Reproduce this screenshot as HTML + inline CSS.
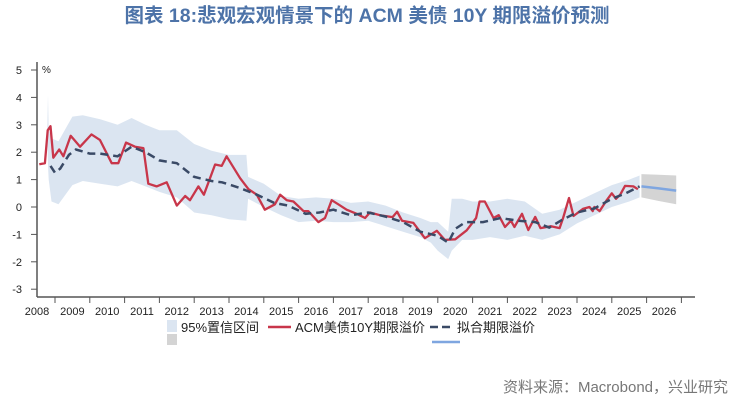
<!DOCTYPE html>
<html><head><meta charset="utf-8">
<style>
body{margin:0;background:#fff;width:734px;height:401px;overflow:hidden;font-family:"Liberation Sans","Noto Sans CJK SC",sans-serif;}
svg{position:absolute;left:0;top:0}
</style></head><body>
<svg width="734" height="401">
<text x="367" y="22" text-anchor="middle" font-size="19.5" font-weight="bold" fill="#4d73a8" font-family="Liberation Sans, Noto Sans CJK SC, sans-serif">图表 18:悲观宏观情景下的 ACM 美债 10Y 期限溢价预测</text>
<g id="plot"></g>
<g font-size="13" fill="#222">
<rect x="167" y="320" width="10" height="12" fill="#dbe5f1"/>
<rect x="167" y="334" width="10" height="11" fill="#d4d4d4"/>
<text x="181" y="332">95%置信区间</text>
<line x1="268" y1="327" x2="291" y2="327" stroke="#c8364a" stroke-width="2.5"/>
<text x="295" y="332">ACM美债10Y期限溢价</text>
<line x1="430" y1="327" x2="453" y2="327" stroke="#3a4a66" stroke-width="2.5" stroke-dasharray="8,4"/>
<text x="457" y="332">拟合期限溢价</text>
<line x1="432" y1="342" x2="460" y2="342" stroke="#7fa6e0" stroke-width="2.5"/>
</g>
<text x="728" y="392" text-anchor="end" font-size="15" fill="#777">资料来源：Macrobond，兴业研究</text>
</svg>
<script>
const yTicks=[5,4,3,2,1,0,-1,-2,-3];
const yearLabels=[2008,2009,2010,2011,2012,2013,2014,2015,2016,2017,2018,2019,2020,2021,2022,2023,2024,2025,2026];
const acmT=[2008.55,2008.71,2008.79,2008.87,2008.95,2009.12,2009.24,2009.45,2009.72,2010.05,2010.29,2010.63,2010.82,2011.04,2011.3,2011.54,2011.68,2011.92,2012.21,2012.5,2012.74,2012.88,2013.12,2013.28,2013.6,2013.79,2013.93,2014.32,2014.56,2014.8,2015.03,2015.32,2015.47,2015.66,2015.85,2016.14,2016.28,2016.57,2016.76,2016.95,2017.14,2017.38,2017.67,2017.91,2018.05,2018.34,2018.7,2018.83,2018.97,2019.3,2019.63,2019.97,2020.2,2020.5,2020.83,2021.1,2021.2,2021.35,2021.6,2021.75,2021.93,2022.1,2022.2,2022.42,2022.6,2022.8,2022.95,2023.25,2023.5,2023.6,2023.77,2023.9,2024.17,2024.36,2024.45,2024.5,2024.65,2024.86,2025.0,2025.12,2025.24,2025.38,2025.62,2025.75];
const acmV=[1.56,1.6,2.8,2.95,1.8,2.1,1.85,2.6,2.2,2.65,2.45,1.6,1.6,2.35,2.2,2.15,0.85,0.75,0.9,0.05,0.4,0.25,0.75,0.45,1.55,1.5,1.85,1.05,0.65,0.45,-0.1,0.1,0.45,0.25,0.2,-0.15,-0.15,-0.55,-0.4,0.25,0.1,-0.1,-0.25,-0.4,-0.2,-0.3,-0.37,-0.17,-0.5,-0.58,-1.14,-0.87,-1.2,-1.18,-0.85,-0.4,0.2,0.2,-0.4,-0.3,-0.73,-0.5,-0.73,-0.25,-0.84,-0.36,-0.77,-0.7,-0.77,-0.4,0.33,-0.33,-0.07,0,-0.15,0,-0.15,0.26,0.5,0.3,0.45,0.77,0.75,0.65];
const fitT=[2008.87,2009.0,2009.15,2009.4,2009.6,2010,2010.3,2010.8,2011.2,2011.6,2012,2012.5,2013,2013.5,2013.8,2014.3,2014.8,2015.3,2015.7,2016.2,2016.6,2017,2017.5,2018,2018.5,2019,2019.5,2020.0,2020.3,2020.5,2020.8,2021.3,2021.8,2022.3,2022.8,2023.2,2023.6,2024,2024.5,2025,2025.4,2025.8];
const fitV=[1.5,1.25,1.4,1.9,2.1,1.95,1.95,1.85,2.2,2.0,1.7,1.6,1.1,0.95,0.9,0.7,0.45,0.15,0.05,-0.25,-0.2,-0.1,-0.3,-0.2,-0.35,-0.55,-0.9,-1.05,-1.3,-0.8,-0.55,-0.55,-0.4,-0.5,-0.55,-0.75,-0.45,-0.2,-0.05,0.3,0.5,0.75];
const bandT=[2008.78,2008.8,2008.82,2008.9,2009.1,2009.5,2009.8,2010.3,2010.8,2011.2,2011.6,2012,2012.5,2013,2013.5,2014,2014.5,2014.55,2015,2015.5,2016,2016.5,2017,2017.5,2018,2018.5,2019,2019.5,2019.8,2020.0,2020.3,2020.4,2020.7,2021,2021.5,2022,2022.5,2023,2023.5,2024,2024.5,2025,2025.5,2025.8];
const bandHi=[2.9,4.1,2.8,2.5,2.4,3.3,3.35,3.2,3.0,3.25,3.0,2.8,2.8,2.3,2.05,1.9,1.9,1.1,0.85,0.4,0.3,0.35,0.3,0.15,0.2,0.05,-0.2,-0.4,-0.55,-0.55,-0.9,0.3,0.3,0.2,0.2,0.3,0.2,-0.25,-0.1,0.2,0.5,0.8,1.0,1.15];
const bandLo=[2.9,1.5,1.0,0.2,0.1,0.8,0.95,0.85,0.75,0.95,0.75,0.55,0.35,-0.2,-0.3,-0.45,-0.5,0.3,0.0,-0.3,-0.55,-0.5,-0.55,-0.55,-0.5,-0.7,-0.9,-1.1,-1.3,-1.6,-1.9,-1.6,-1.2,-1.2,-1.1,-1.2,-1.05,-1.2,-1.0,-0.6,-0.3,0.0,0.2,0.35];
const fcT=[2025.85,2026.35,2026.85];
const fcV=[0.75,0.68,0.6];
const fcHi=[1.2,1.18,1.15];
const fcLo=[0.35,0.22,0.1];

const NS="http://www.w3.org/2000/svg";
const g=document.getElementById('plot');
const X=t=>55+(t-2009)*34.8;
const Y=v=>207-27.4*v;
function mk(tag,attrs){const e=document.createElementNS(NS,tag);for(const k in attrs)e.setAttribute(k,attrs[k]);g.appendChild(e);return e;}
function pts(ts,vs){return ts.map((t,i)=>X(t).toFixed(1)+','+Y(vs[i]).toFixed(1)).join(' ');}
function bandPts(ts,hi,lo){return pts(ts,hi)+' '+pts(ts.slice().reverse(),lo.slice().reverse());}

let e=mk('polygon',{points:bandPts(bandT,bandHi,bandLo),fill:'#dbe5f1'});


e=mk('polygon',{points:bandPts(fcT,fcHi,fcLo),fill:'#d4d4d4'});


e=mk('polyline',{points:pts(acmT,acmV),fill:'none',stroke:'#c8364a','stroke-width':2.3,'stroke-linejoin':'round'});


e=mk('polyline',{points:pts(fitT,fitV),fill:'none',stroke:'#3a4a66','stroke-width':2.5,'stroke-dasharray':'8,5'});


e=mk('polyline',{points:pts(fcT,fcV),fill:'none',stroke:'#7fa6e0','stroke-width':2.5});



e=mk('line',{x1:37,y1:62,x2:37,y2:297,stroke:'#555','stroke-width':1.5});


e=mk('line',{x1:37,y1:297,x2:695,y2:297,stroke:'#555','stroke-width':1.5});


yTicks.forEach(v=>{
  mk('line',{x1:31,y1:Y(v),x2:37,y2:Y(v),stroke:'#555','stroke-width':1});
  const t=mk('text',{x:22,y:Y(v)+4,'text-anchor':'end','font-size':11,fill:'#222'});
  t.textContent=v;
  
  
});
const pc=mk('text',{x:42,y:73,'font-size':10,fill:'#222'});pc.textContent='%';


for(let yr=2009;yr<=2027;yr++){mk('line',{x1:X(yr),y1:297,x2:X(yr),y2:303,stroke:'#555','stroke-width':1});}
yearLabels.forEach(yr=>{
  const t=mk('text',{x:yr===2008?37:X(yr+0.5),y:315,'text-anchor':'middle','font-size':11,fill:'#222'});
  t.textContent=yr;
  
  
});
</script>
</body></html>
